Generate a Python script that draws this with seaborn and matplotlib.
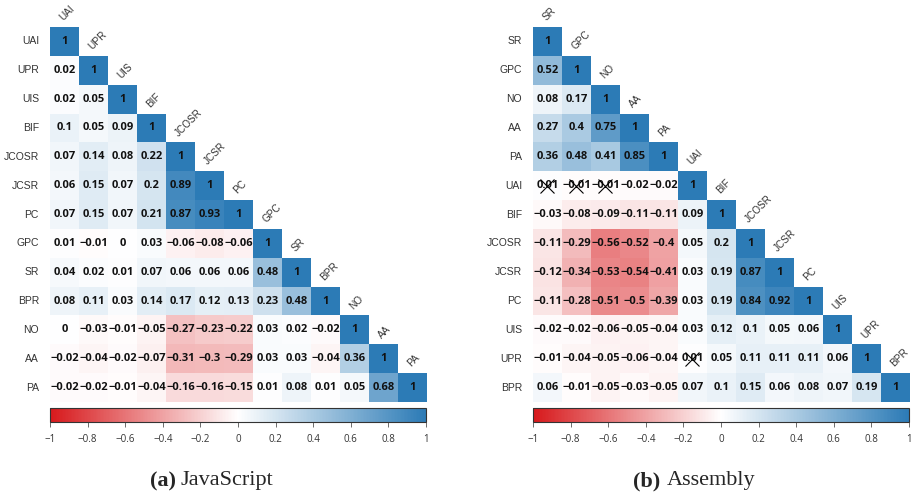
import numpy as np
import pandas as pd
import matplotlib
matplotlib.use("Agg")
import matplotlib.pyplot as plt
from matplotlib.colors import LinearSegmentedColormap
import seaborn as sns

# ---------------- data ----------------
js_labels = ["UAI", "UPR", "UIS", "BIF", "JCOSR", "JCSR", "PC", "GPC", "SR", "BPR", "NO", "AA", "PA"]
js_lower = [
    [],
    [0.02],
    [0.02, 0.05],
    [0.1, 0.05, 0.09],
    [0.07, 0.14, 0.08, 0.22],
    [0.06, 0.15, 0.07, 0.2, 0.89],
    [0.07, 0.15, 0.07, 0.21, 0.87, 0.93],
    [0.01, -0.01, 0, 0.03, -0.06, -0.08, -0.06],
    [0.04, 0.02, 0.01, 0.07, 0.06, 0.06, 0.06, 0.48],
    [0.08, 0.11, 0.03, 0.14, 0.17, 0.12, 0.13, 0.23, 0.48],
    [0, -0.03, -0.01, -0.05, -0.27, -0.23, -0.22, 0.03, 0.02, -0.02],
    [-0.02, -0.04, -0.02, -0.07, -0.31, -0.3, -0.29, 0.03, 0.03, -0.04, 0.36],
    [-0.02, -0.02, -0.01, -0.04, -0.16, -0.16, -0.15, 0.01, 0.08, 0.01, 0.05, 0.68],
]
js_crossed = []

asm_labels = ["SR", "GPC", "NO", "AA", "PA", "UAI", "BIF", "JCOSR", "JCSR", "PC", "UIS", "UPR", "BPR"]
asm_lower = [
    [],
    [0.52],
    [0.08, 0.17],
    [0.27, 0.4, 0.75],
    [0.36, 0.48, 0.41, 0.85],
    [0.01, -0.01, -0.01, -0.02, -0.02],
    [-0.03, -0.08, -0.09, -0.11, -0.11, 0.09],
    [-0.11, -0.29, -0.56, -0.52, -0.4, 0.05, 0.2],
    [-0.12, -0.34, -0.53, -0.54, -0.41, 0.03, 0.19, 0.87],
    [-0.11, -0.28, -0.51, -0.5, -0.39, 0.03, 0.19, 0.84, 0.92],
    [-0.02, -0.02, -0.06, -0.05, -0.04, 0.03, 0.12, 0.1, 0.05, 0.06],
    [-0.01, -0.04, -0.05, -0.06, -0.04, 0.01, 0.05, 0.11, 0.11, 0.11, 0.06],
    [0.06, -0.01, -0.05, -0.03, -0.05, 0.07, 0.1, 0.15, 0.06, 0.08, 0.07, 0.19],
]
# (row label, column label) pairs marked as not significant
asm_crossed = [("UAI", "SR"), ("UAI", "GPC"), ("UAI", "NO"), ("UPR", "UAI")]

cbar_ticks = [-1, -0.8, -0.6, -0.4, -0.2, 0, 0.2, 0.4, 0.6, 0.8, 1]
captions = [("(a)", "JavaScript"), ("(b)", "Assembly")]

# ---------------- helpers ----------------
def full_matrix(labels, lower):
    n = len(labels)
    m = np.full((n, n), np.nan)
    for i in range(n):
        m[i, i] = 1.0
        for j, v in enumerate(lower[i]):
            m[i, j] = v
            m[j, i] = v
    return pd.DataFrame(m, index=labels, columns=labels)

def fmt_val(v):
    s = f"{v:.2f}".rstrip("0").rstrip(".")
    if s in ("-0", ""):
        s = "0"
    return s.replace("-", "\u2212")

cmap = LinearSegmentedColormap.from_list("rwb", ["#d7191c", "#ffffff", "#2c7bb6"])

sns.set_theme(style="white")
plt.rcParams["font.family"] = ["Liberation Sans", "DejaVu Sans"]

W, H = 912, 495
fig = plt.figure(figsize=(W / 100, H / 100), dpi=100)

def fx(px):
    return px / W

def fy(py):
    return 1 - py / H

heat_lefts = [50, 533]
cap_pos = [(176, 181), (660, 667)]

for k, (labels, lower, crossed) in enumerate([(js_labels, js_lower, js_crossed),
                                               (asm_labels, asm_lower, asm_crossed)]):
    df = full_matrix(labels, lower)
    n = len(labels)
    mask = np.triu(np.ones((n, n), dtype=bool), k=1)
    annot = np.array([[fmt_val(df.iat[i, j]) for j in range(n)] for i in range(n)], dtype=object)

    left = heat_lefts[k]
    ax = fig.add_axes([fx(left), fy(402), fx(377), 375 / H])
    cax = fig.add_axes([fx(left), fy(422), fx(376), 14 / H])

    sns.heatmap(df, mask=mask, cmap=cmap, vmin=-1, vmax=1, annot=annot, fmt="",
                annot_kws={"fontsize": 8, "fontweight": "bold", "color": "#111111",
                           "family": ["Open Sans", "DejaVu Sans"]},
                linewidths=0, square=False,
                ax=ax, cbar_ax=cax, cbar_kws={"orientation": "horizontal", "ticks": cbar_ticks})

    ax.set_xticks([])
    ax.set_xlabel("")
    ax.set_ylabel("")
    ax.set_yticks(np.arange(n) + 0.5)
    ax.set_yticklabels(labels, rotation=0, fontsize=7.5, color="#333333")
    ax.tick_params(axis="y", length=0, pad=8)
    for s in ax.spines.values():
        s.set_visible(False)

    # diagonal column labels
    for i, lab in enumerate(labels):
        ax.text(i + 0.5, i - 0.15, lab, rotation=45, rotation_mode="anchor",
                ha="left", va="bottom", fontsize=7.2, color="#333333")

    # crossed (non-significant) cells
    for (r, c) in crossed:
        i = labels.index(r)
        j = labels.index(c)
        ax.plot(j + 0.5, i + 0.5, marker="x", markersize=10.5, markeredgewidth=0.8,
                color="black", zorder=5)

    # colorbar styling
    cbar = ax.collections[0].colorbar
    cbar.outline.set_edgecolor("#333333")
    cbar.outline.set_linewidth(0.8)
    cax.xaxis.set_ticks_position("bottom")
    cax.set_xticks(cbar_ticks)
    cax.set_xticklabels([fmt_val(t) if t != 0 else "0" for t in cbar_ticks],
                        fontsize=7, color="#333333",
                        family=["Open Sans", "DejaVu Sans"])
    cax.tick_params(axis="x", direction="out", length=3.5, width=0.6, color="#555555", pad=5,
                    bottom=True)

    # caption
    a, b = captions[k]
    xa, xb = cap_pos[k]
    fig.text(fx(xa), fy(481), a, ha="right", va="center", fontsize=16,
             fontweight="bold", family=["Liberation Serif", "DejaVu Serif"])
    fig.text(fx(xb), fy(481), b, ha="left", va="center", fontsize=16,
             family=["Liberation Serif", "DejaVu Serif"])

fig.savefig("out.png", dpi=100)
